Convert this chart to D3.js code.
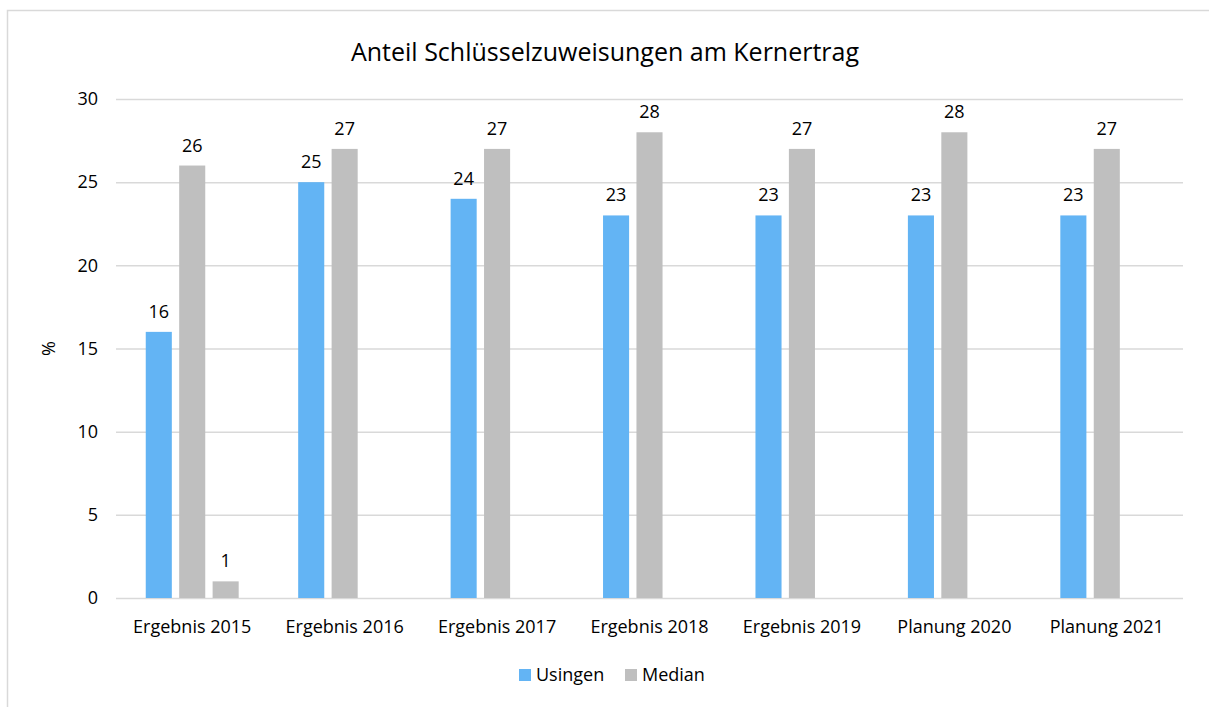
<!DOCTYPE html>
<html lang="de">
<head>
<meta charset="UTF-8"/>
<title>Anteil Schlüsselzuweisungen am Kernertrag</title>
<script src="https://d3js.org/d3.v7.min.js"></script>
<style>
    body { margin: 0; background: #fff; }
    text { font-family: "Open Sans", "Liberation Sans", sans-serif; fill: #000; }
    .grid line { stroke: #d9d9d9; stroke-width: 1.5px; }
    .grid path { display: none; }
    .axis path, .axis line { display: none; }
</style>
</head>
<body>
<div id="chart"></div>
<script>
// data
var categories = ["Ergebnis 2015", "Ergebnis 2016", "Ergebnis 2017", "Ergebnis 2018",
                  "Ergebnis 2019", "Planung 2020", "Planung 2021"];
var seriesNames = ["Usingen", "Median", "Reihe3"];
var usingen = [16, 25, 24, 23, 23, 23, 23];
var median  = [26, 27, 27, 28, 27, 28, 27];
var reihe3  = [1, null, null, null, null, null, null];
var yTicks  = [0, 5, 10, 15, 20, 25, 30];
var legendNames = ["Usingen", "Median"];
var colors = ["#63b4f4", "#bfbfbf", "#bfbfbf"];

var W = 1209, H = 707;
var margin = {top: 99, right: 26, bottom: 109, left: 116};
var width = W - margin.left - margin.right,
    height = H - margin.top - margin.bottom;

var svg = d3.select("#chart").append("svg")
    .attr("width", W).attr("height", H);

// chart frame (cut off at right and bottom like the screenshot)
svg.append("path")
    .attr("d", "M7.5,707 V10.5 H1209")
    .attr("fill", "none")
    .attr("stroke", "#d9d9d9")
    .attr("stroke-width", 1.5);

svg.append("text")
    .attr("x", 605).attr("y", 61)
    .attr("text-anchor", "middle")
    .style("font-size", "25px")
    .text("Anteil Schlüsselzuweisungen am Kernertrag");

var g = svg.append("g")
    .attr("transform", "translate(" + margin.left + "," + margin.top + ")");

var y = d3.scaleLinear().domain([0, 30]).range([height, 0]);
var x0 = d3.scaleBand().domain(categories).range([0, width]).padding(0);
var x1 = d3.scaleBand().domain(seriesNames).range([0, x0.bandwidth()])
    .paddingInner(0.22).paddingOuter(0.89);

g.append("g").attr("class", "grid")
    .call(d3.axisLeft(y).tickValues(yTicks).tickSize(-width).tickFormat(""));

g.append("g").attr("class", "axis")
    .call(d3.axisLeft(y).tickValues(yTicks).tickSize(0).tickPadding(18))
    .selectAll("text").style("font-size", "18px");

g.append("g").attr("class", "axis")
    .attr("transform", "translate(0," + height + ")")
    .call(d3.axisBottom(x0).tickSize(0).tickPadding(22))
    .selectAll("text").style("font-size", "18px");

g.append("text")
    .attr("transform", "translate(-61," + (height / 2) + ") rotate(-90)")
    .attr("text-anchor", "middle")
    .style("font-size", "18px")
    .text("%");

var allSeries = [usingen, median, reihe3];
var rows = [];
categories.forEach(function(c, i) {
    allSeries.forEach(function(s, j) {
        if (s[i] != null) rows.push({cat: c, name: seriesNames[j], idx: j, value: s[i]});
    });
});

g.selectAll("rect.bar").data(rows).enter().append("rect")
    .attr("class", "bar")
    .attr("x", function(d) { return x0(d.cat) + x1(d.name); })
    .attr("y", function(d) { return y(d.value); })
    .attr("width", x1.bandwidth())
    .attr("height", function(d) { return height - y(d.value); })
    .attr("fill", function(d) { return colors[d.idx]; });

g.selectAll("text.lbl").data(rows).enter().append("text")
    .attr("class", "lbl")
    .attr("x", function(d) { return x0(d.cat) + x1(d.name) + x1.bandwidth() / 2; })
    .attr("y", function(d) { return y(d.value) - 14; })
    .attr("text-anchor", "middle")
    .style("font-size", "18px")
    .text(function(d) { return d.value; });

// legend
var legend = svg.append("g");
var lx = [519, 625];
legendNames.forEach(function(n, i) {
    legend.append("rect")
        .attr("x", lx[i]).attr("y", 669)
        .attr("width", 12).attr("height", 12)
        .attr("fill", colors[i]);
    legend.append("text")
        .attr("x", lx[i] + 17).attr("y", 681)
        .style("font-size", "18px")
        .text(n);
});
</script>
</body>
</html>
